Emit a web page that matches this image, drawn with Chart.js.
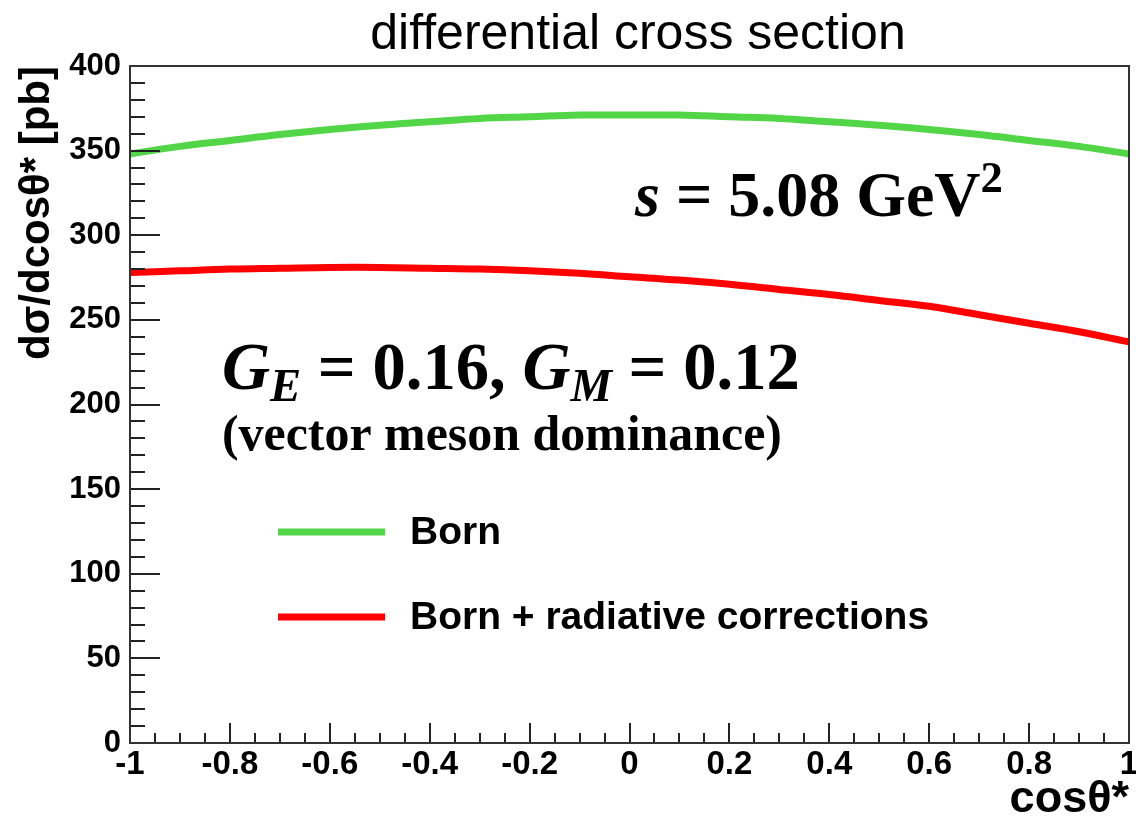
<!DOCTYPE html>
<html>
<head>
<meta charset="utf-8">
<script src="https://cdn.jsdelivr.net/npm/chart.js@4"></script>
<style>
  body { margin: 0; background: #fff; }
  #wrap { width: 1136px; height: 819px; }
</style>
</head>
<body>
<div id="wrap"><canvas id="xsChart"></canvas></div>
<script>
// values
const cosTheta = [-1, -0.9, -0.8, -0.7, -0.6, -0.5, -0.4, -0.3, -0.2, -0.1, 0,
                  0.1, 0.2, 0.3, 0.4, 0.5, 0.6, 0.7, 0.8, 0.9, 1];
const born = [348, 352.5, 356, 359.5, 362.5, 365, 367, 369, 370, 371, 371,
              371, 370, 369, 367, 365, 362.5, 359.5, 356, 352.5, 348];
const bornRad = [278, 279, 280, 280.5, 281, 281, 280.5, 280, 279, 277.5, 275.5,
                 273.5, 271, 268, 265, 261.5, 258, 253, 248, 243, 237];
const yTicks = [0, 50, 100, 150, 200, 250, 300, 350, 400];
const xTicks = [-1, -0.8, -0.6, -0.4, -0.2, 0, 0.2, 0.4, 0.6, 0.8, 1];

const GREEN = 'rgb(82,214,72)';
const RED = 'rgb(255,0,0)';
const SANS = '"Liberation Sans", Arial, sans-serif';
const SERIF = '"Liberation Serif", "Times New Roman", serif';

function pts(ys) {
    return cosTheta.map((c, i) => ({ x: c, y: ys[i] }));
}

// draw a run of text pieces scaled so the whole run is targetW wide
function drawRuns(ctx, runs, x, y, targetW) {
    const base = 100;
    let w = 0;
    runs.forEach(r => {
        ctx.font = r.style + ' ' + (base * (r.size || 1)) + 'px ' + r.fam;
        w += ctx.measureText(r.t).width;
    });
    const k = targetW / w;
    let cx = x;
    ctx.textBaseline = 'alphabetic';
    ctx.textAlign = 'left';
    runs.forEach(r => {
        ctx.font = r.style + ' ' + (base * k * (r.size || 1)) + 'px ' + r.fam;
        ctx.fillText(r.t, cx, y + (r.dy || 0) * base * k);
        cx += ctx.measureText(r.t).width;
    });
}

const extras = {
    id: 'extras',
    afterDatasetsDraw(chart) {
        const { ctx, chartArea: a, scales } = chart;
        ctx.save();
        ctx.strokeStyle = '#222';
        ctx.lineWidth = 2;
        ctx.beginPath();
        // inner ticks, y axis: minor every 10, major every 50
        for (let v = 0; v <= 400; v += 10) {
            const py = Math.round(scales.y.getPixelForValue(v));
            const len = v % 50 === 0 ? 30 : 15;
            ctx.moveTo(a.left, py);
            ctx.lineTo(a.left + len, py);
        }
        // x axis: minor every 0.05, major every 0.2
        for (let i = 0; i <= 40; i++) {
            const px = Math.round(scales.x.getPixelForValue(-1 + i * 0.05));
            const len = i % 4 === 0 ? 20 : 10;
            ctx.moveTo(px, a.bottom);
            ctx.lineTo(px, a.bottom - len);
        }
        ctx.stroke();
        ctx.strokeStyle = '#333';
        ctx.strokeRect(a.left, a.top, a.right - a.left, a.bottom - a.top);
        ctx.restore();
    },
    afterDraw(chart) {
        const { ctx } = chart;
        ctx.save();
        ctx.fillStyle = '#000';
        ctx.font = '50px ' + SANS;
        ctx.textAlign = 'center';
        ctx.textBaseline = 'alphabetic';
        ctx.fillText('differential cross section', 638, 49);

        drawRuns(ctx, [
            { t: 's', style: 'italic bold', fam: SERIF },
            { t: ' = 5.08 GeV', style: 'bold', fam: SERIF },
            { t: '2', style: 'bold', fam: SERIF, size: 0.7, dy: -0.38 }
        ], 635, 216, 368);

        drawRuns(ctx, [
            { t: 'G', style: 'italic bold', fam: SERIF },
            { t: 'E', style: 'italic bold', fam: SERIF, size: 0.7, dy: 0.18 },
            { t: ' = 0.16, ', style: 'bold', fam: SERIF },
            { t: 'G', style: 'italic bold', fam: SERIF },
            { t: 'M', style: 'italic bold', fam: SERIF, size: 0.7, dy: 0.18 },
            { t: ' = 0.12', style: 'bold', fam: SERIF }
        ], 222, 389, 578);

        drawRuns(ctx, [
            { t: '(vector meson dominance)', style: 'bold', fam: SERIF }
        ], 222, 450, 560);

        // legend
        const legend = [[GREEN, 'Born', 532], [RED, 'Born + radiative corrections', 617]];
        legend.forEach(([col, label, ly]) => {
            ctx.strokeStyle = col;
            ctx.lineWidth = 7;
            ctx.beginPath();
            ctx.moveTo(278, ly);
            ctx.lineTo(385, ly);
            ctx.stroke();
            ctx.fillStyle = '#000';
            ctx.font = 'bold 39px ' + SANS;
            ctx.textAlign = 'left';
            ctx.textBaseline = 'middle';
            ctx.fillText(label, 410, ly + 1);
        });
        ctx.restore();
    }
};

new Chart(document.getElementById('xsChart'), {
    type: 'line',
    data: {
        datasets: [
            { label: 'Born', data: pts(born), borderColor: GREEN, borderWidth: 7,
              pointRadius: 0, tension: 0.4, fill: false },
            { label: 'Born + radiative corrections', data: pts(bornRad), borderColor: RED,
              borderWidth: 7, pointRadius: 0, tension: 0.4, fill: false }
        ]
    },
    options: {
        responsive: true,
        maintainAspectRatio: false,
        animation: false,
        layout: { padding: { top: 66, right: 7, left: 0, bottom: 0 } },
        plugins: { legend: { display: false }, title: { display: false }, tooltip: { enabled: false } },
        scales: {
            x: {
                type: 'linear', min: -1, max: 1,
                afterBuildTicks: s => { s.ticks = xTicks.map(v => ({ value: v })); },
                afterFit: s => { s.height = 76; s.paddingLeft = 0; s.paddingRight = 0; },
                grid: { display: false, drawTicks: false },
                border: { display: false },
                ticks: { color: '#000', font: { family: SANS, size: 33, weight: 'bold', lineHeight: 1 },
                         padding: 5, maxRotation: 0, autoSkip: false,
                         callback: v => String(Math.round(v * 10) / 10) },
                title: { display: true, text: 'cosθ*', align: 'end', color: '#000',
                         font: { family: SANS, size: 45, weight: 'bold', lineHeight: 1 },
                         padding: { top: 0, bottom: -3 } }
            },
            y: {
                min: 0, max: 400,
                afterBuildTicks: s => { s.ticks = yTicks.map(v => ({ value: v })); },
                afterFit: s => { s.width = 130; },
                grid: { display: false, drawTicks: false },
                border: { display: false },
                ticks: { color: '#000', font: { family: SANS, size: 31, weight: 'bold' }, padding: 9 },
                title: { display: true, text: 'dσ/dcosθ* [pb]', align: 'end', color: '#000',
                         font: { family: SANS, size: 42, weight: 'bold' }, padding: { top: 12, bottom: 0 } }
            }
        }
    },
    plugins: [extras]
});
</script>
</body>
</html>
